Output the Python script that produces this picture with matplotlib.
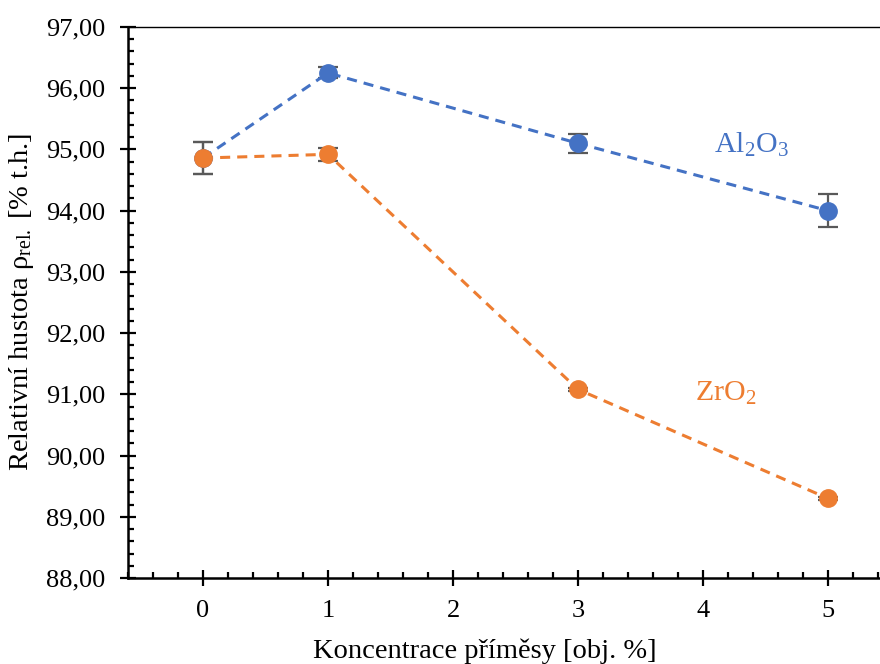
import matplotlib.pyplot as plt
from matplotlib.ticker import MultipleLocator, FuncFormatter

plt.rcParams['font.family'] = 'Liberation Serif'
plt.rcParams['mathtext.fontset'] = 'custom'
plt.rcParams['mathtext.rm'] = 'Liberation Serif'
plt.rcParams['mathtext.it'] = 'Liberation Serif:italic'

# Relative density vs. dopant concentration
conc = [0, 1, 3, 5]
al2o3 = [94.86, 96.25, 95.10, 94.00]
al2o3_err = [0.26, 0.09, 0.15, 0.27]
zro2 = [94.86, 94.92, 91.08, 89.30]
zro2_err = [0.26, 0.11, 0.03, 0.03]

blue = '#4472C4'
orange = '#ED7D31'
grey = '#595959'

fig = plt.figure(figsize=(8.8, 6.64), dpi=100)
ax = fig.add_axes([128 / 880, 1 - 578 / 664, 775 / 880, 551 / 664])

for y, err, c in [(al2o3, al2o3_err, blue), (zro2, zro2_err, orange)]:
    ax.errorbar(conc, y, yerr=err, fmt='none', ecolor=grey, elinewidth=1.6,
                capsize=7, capthick=1.6, zorder=2)
    ax.plot(conc, y, color=c, linestyle=(0, (3.3, 2.3)), linewidth=2.2, zorder=3)
    ax.plot(conc, y, 'o', color=c, markersize=12.5, zorder=4)

ax.text(4.39, 95.07, 'Al$_2$O$_3$', color=blue, fontsize=21.5, ha='center', va='center')
ax.text(4.18, 91.02, 'ZrO$_2$', color=orange, fontsize=21.5, ha='center', va='center')

ax.set_xlim(-0.6, 5.6)
ax.set_ylim(88, 97)
ax.xaxis.set_major_locator(MultipleLocator(1))
ax.xaxis.set_minor_locator(MultipleLocator(0.2))
ax.yaxis.set_major_locator(MultipleLocator(1))
ax.yaxis.set_minor_locator(MultipleLocator(0.2))
ax.xaxis.set_major_formatter(FuncFormatter(lambda v, p: f'{v:.0f}' if v >= 0 else ''))
ax.yaxis.set_major_formatter(FuncFormatter(lambda v, p: f'{v:.2f}'.replace('.', ',')))

ax.tick_params(which='major', direction='inout', length=11, width=1.6, labelsize=19)
ax.tick_params(which='minor', direction='in', length=4.5, width=1.6)
ax.tick_params(axis='y', which='major', pad=11)
ax.tick_params(axis='x', which='major', pad=10)
ax.tick_params(top=False, right=False, which='both')

ax.spines['left'].set_linewidth(1.8)
ax.spines['bottom'].set_linewidth(1.8)
ax.spines['top'].set_linewidth(1.0)
ax.spines['right'].set_visible(False)

# axis titles placed in figure pixels (plot area runs past the right edge)
fig.text(22 / 880, 1 - 302 / 664, 'Relativní hustota ρ$_{\\mathrm{rel.}}$ [% t.h.]',
         fontsize=20.5, rotation=90, ha='center', va='center')
fig.text(484.5 / 880, 1 - 651 / 664, 'Koncentrace příměsy [obj. %]',
         fontsize=20.5, ha='center', va='center')

fig.savefig('out.png', dpi=100)
